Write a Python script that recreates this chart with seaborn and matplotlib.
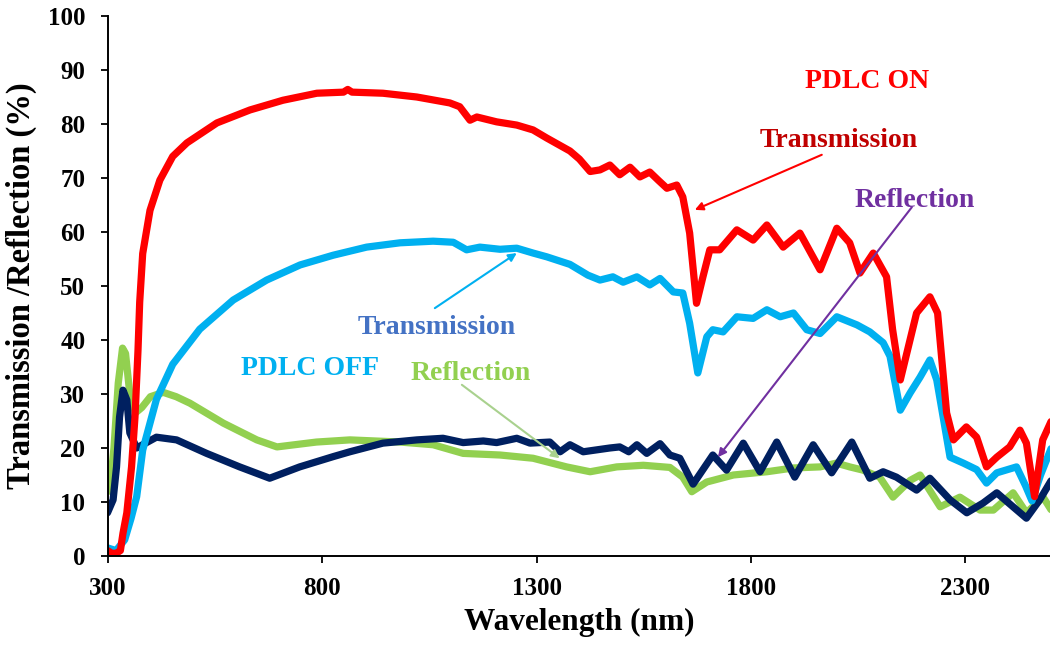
import numpy as np
import pandas as pd
import matplotlib
matplotlib.use("Agg")
import matplotlib.pyplot as plt
import seaborn as sns

# ---------------- data ----------------
wl_on_T = [300, 310, 320, 330, 336, 345, 356, 364, 371, 375, 382, 399, 422, 452, 485,
           555, 632, 709, 788, 850, 860, 870, 942, 1021, 1098, 1121, 1145, 1161, 1207,
           1254, 1292, 1324, 1378, 1400, 1425, 1448, 1471, 1494, 1518, 1541, 1564, 1585,
           1604, 1627, 1641, 1657, 1673, 1688, 1704, 1727, 1767, 1805, 1837, 1875, 1914,
           1961, 2000, 2030, 2054, 2085, 2116, 2130, 2148, 2186, 2217, 2235, 2256, 2272,
           2302, 2326, 2349, 2373, 2403, 2427, 2442, 2461, 2480, 2500]
on_T = [1.0, 0.5, 0.5, 1.0, 4.2, 8.0, 16.5, 25.7, 38.0, 47.0, 56.0, 64.0, 69.6, 74.0, 76.5,
        80.2, 82.6, 84.4, 85.7, 85.9, 86.4, 85.9, 85.7, 85.0, 83.9, 83.2, 80.7, 81.3, 80.4,
        79.8, 78.9, 77.4, 75.0, 73.5, 71.2, 71.5, 72.4, 70.6, 72.0, 70.2, 71.1, 69.5,
        68.1, 68.7, 66.5, 59.8, 46.8, 51.7, 56.7, 56.7, 60.4, 58.5, 61.3, 57.2, 59.8,
        53.0, 60.7, 58.0, 52.4, 56.1, 51.7, 42.0, 32.6, 45.0, 48.0, 45.0, 26.5, 21.5,
        23.9, 22.0, 16.5, 18.3, 20.2, 23.3, 20.9, 11.0, 21.5, 25.0]

wl_off_T = [300, 320, 340, 355, 368, 382, 414, 452, 515, 593, 671, 749, 826, 904, 982,
            1059, 1106, 1137, 1168, 1215, 1254, 1292, 1324, 1378, 1420, 1448, 1478, 1502,
            1534, 1564, 1588, 1619, 1641, 1657, 1676, 1697, 1711, 1735, 1767, 1805, 1837,
            1868, 1899, 1930, 1961, 2000, 2047, 2077, 2108, 2124, 2148, 2171, 2194, 2217,
            2233, 2264, 2295, 2326, 2349, 2373, 2419, 2440, 2455, 2475, 2500]
off_T = [1.5, 1.0, 3.0, 7.0, 11.0, 19.6, 29.0, 35.5, 42.0, 47.4, 51.1, 53.9, 55.7, 57.2, 58.0,
         58.3, 58.1, 56.7, 57.2, 56.8, 57.0, 56.1, 55.4, 54.0, 52.0, 51.1, 51.7, 50.7,
         51.7, 50.2, 51.4, 48.9, 48.7, 43.1, 33.9, 40.6, 41.9, 41.5, 44.3, 44.0, 45.6,
         44.3, 45.0, 41.9, 41.2, 44.3, 42.8, 41.5, 39.5, 37.0, 27.0, 30.2, 33.1, 36.3,
         32.6, 18.3, 17.2, 16.0, 13.5, 15.4, 16.5, 13.0, 10.2, 15.0, 20.0]

wl_off_R = [305, 315, 325, 335, 342, 352, 365, 380, 400, 430, 460, 492, 570, 648, 695, 787,
            865, 982, 1059, 1129, 1215, 1292, 1370, 1425, 1487, 1549, 1611, 1641, 1662,
            1697, 1759, 1837, 1899, 1961, 1999, 2030, 2061, 2100, 2131, 2171, 2194, 2241,
            2287, 2334, 2365, 2411, 2442, 2481, 2500]
off_R = [12.0, 20.0, 32.0, 38.5, 37.5, 30.0, 26.5, 27.5, 29.5, 30.3, 29.5, 28.3, 24.6, 21.5,
         20.2, 21.1, 21.5, 21.1, 20.6, 19.0, 18.7, 18.1, 16.5, 15.6, 16.5, 16.8, 16.4,
         14.6, 11.9, 13.7, 15.0, 15.6, 16.3, 16.5, 17.2, 16.5, 15.9, 14.6, 10.9, 14.0,
         15.0, 9.1, 10.9, 8.5, 8.5, 11.7, 8.0, 10.9, 8.5]

wl_on_R = [300, 313, 321, 328, 336, 345, 352, 368, 414, 461, 531, 608, 678, 748, 826, 865,
           942, 1021, 1082, 1129, 1176, 1207, 1254, 1285, 1331, 1355, 1378, 1409, 1471,
           1494, 1515, 1534, 1557, 1588, 1611, 1634, 1665, 1711, 1743, 1782, 1821, 1860,
           1902, 1945, 1988, 2035, 2077, 2108, 2139, 2186, 2217, 2264, 2303, 2341, 2373,
           2411, 2442, 2473, 2500]
on_R = [8.0, 10.4, 16.5, 25.7, 30.7, 28.9, 22.8, 20.0, 22.0, 21.5, 19.0, 16.5, 14.4, 16.5,
        18.4, 19.3, 20.9, 21.5, 21.8, 21.0, 21.3, 21.0, 21.8, 20.9, 21.1, 19.3, 20.6, 19.3,
        20.0, 20.2, 19.3, 20.6, 19.0, 20.8, 18.7, 18.1, 13.3, 18.7, 15.9, 20.9, 15.6, 21.1,
        14.6, 20.6, 15.4, 21.1, 14.4, 15.6, 14.6, 12.2, 14.4, 10.4, 8.0, 9.8, 11.7,
        9.1, 7.0, 10.4, 14.0]

x_ticks = [300, 800, 1300, 1800, 2300]
y_ticks = list(range(0, 101, 10))

# ---------------- style ----------------
sns.set_theme(style="ticks")
plt.rcParams["font.family"] = ["Liberation Serif", "DejaVu Serif"]
plt.rcParams["font.weight"] = "bold"
plt.rcParams["text.color"] = "black"
plt.rcParams["axes.labelcolor"] = "black"
plt.rcParams["xtick.color"] = "black"
plt.rcParams["ytick.color"] = "black"

C_RED = "#FF0000"
C_LBLUE = "#00B0F0"
C_GREEN = "#92D050"
C_NAVY = "#002060"

fig = plt.figure(figsize=(10.5, 6.48), dpi=100)
ax = fig.add_axes([0.1024, 0.142, 0.8976, 0.8333])

series = [
    (wl_off_R, off_R, C_GREEN),
    (wl_on_R, on_R, C_NAVY),
    (wl_off_T, off_T, C_LBLUE),
    (wl_on_T, on_T, C_RED),
]
for wl, val, col in series:
    df = pd.DataFrame({"wl": wl, "v": val})
    sns.lineplot(data=df, x="wl", y="v", ax=ax, color=col, lw=5.2, sort=False,
                 solid_joinstyle="round", solid_capstyle="round")

ax.set_xlim(300, 2497)
ax.set_ylim(0, 100)
ax.set_xticks(x_ticks)
ax.set_yticks(y_ticks)
ax.tick_params(axis="both", labelsize=18, length=5, width=1.3, direction="out",
               color="black", labelcolor="black")
ax.tick_params(axis="x", pad=10)
ax.tick_params(axis="y", pad=11)
for lab in ax.get_xticklabels() + ax.get_yticklabels():
    lab.set_fontweight("bold")
for s in ["top", "right"]:
    ax.spines[s].set_visible(False)
for s in ["left", "bottom"]:
    ax.spines[s].set_linewidth(1.4)
    ax.spines[s].set_color("black")

ax.set_xlabel("Wavelength (nm)", fontsize=22.5, fontweight="bold", color="black")
ax.set_ylabel("Transmission /Reflection (%)", fontsize=23.5, fontweight="bold", color="black")
ax.xaxis.set_label_coords(0.5, -0.0963)
ax.yaxis.set_label_coords(-0.0748, 0.5)

# ---------------- annotations ----------------
ax.text(2071, 86.6, "PDLC ON", color="#FF0000", fontsize=20, fontweight="bold",
        ha="center", va="baseline")
ax.text(2005, 75.8, "Transmission", color="#C00000", fontsize=20, fontweight="bold",
        ha="center", va="baseline")
ax.text(2182, 64.7, "Reflection", color="#7030A0", fontsize=20, fontweight="bold",
        ha="center", va="baseline")
ax.text(1067, 41.2, "Transmission", color="#4472C4", fontsize=20, fontweight="bold",
        ha="center", va="baseline")
ax.text(772, 33.5, "PDLC OFF", color="#00B0F0", fontsize=20, fontweight="bold",
        ha="center", va="baseline")
ax.text(1146, 32.6, "Reflection", color="#92D050", fontsize=20, fontweight="bold",
        ha="center", va="baseline")

arrows = [
    ((1965, 74.3), (1669, 64.1), "#FF0000"),
    ((2175, 64.6), (1723, 18.3), "#7030A0"),
    ((1063, 45.9), (1254, 56.1), "#00B0F0"),
    ((1126, 31.7), (1354, 18.1), "#A9D18E"),
]
for tail, head, col in arrows:
    ax.annotate("", xy=head, xytext=tail,
                arrowprops=dict(arrowstyle="-|>", color=col, lw=1.5,
                                mutation_scale=12, shrinkA=0, shrinkB=0))

fig.savefig("out.png", dpi=100)
